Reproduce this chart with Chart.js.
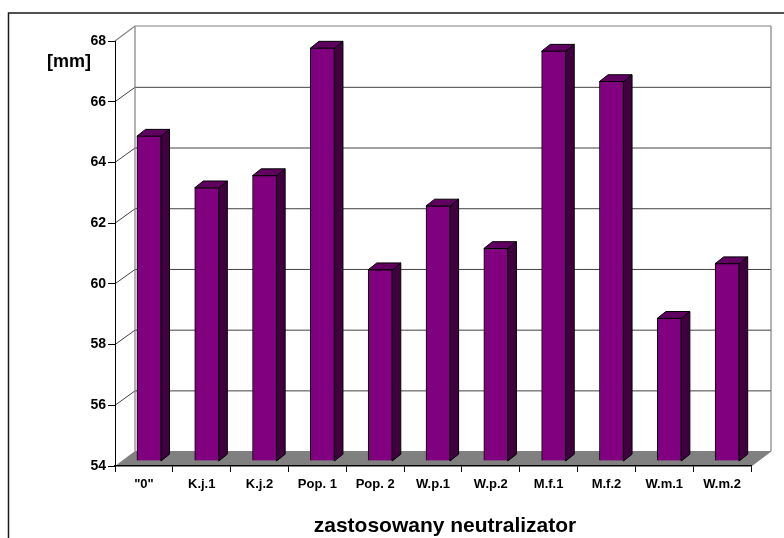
<!DOCTYPE html>
<html>
<head>
<meta charset="utf-8">
<style>
html,body{margin:0;padding:0;background:#fff;overflow:hidden}
#wrap{position:relative;width:784px;height:538px}
</style>
<script src="https://cdn.jsdelivr.net/npm/chart.js@4/dist/chart.umd.min.js"></script>
</head>
<body>
<div id="wrap"><canvas id="c" width="784" height="538"></canvas></div>
<script>
const categories = ['"0"','K.j.1','K.j.2','Pop. 1','Pop. 2','W.p.1','W.p.2','M.f.1','M.f.2','W.m.1','W.m.2'];
const values = [64.7,63.0,63.4,67.6,60.3,62.4,61.0,67.5,66.5,58.7,60.5];
const yMin = 54, yMax = 68, yStep = 2;
const yUnitLabel = '[mm]';
const xAxisLabel = 'zastosowany neutralizator';

const FONT = '"Liberation Sans", Arial, sans-serif';
const wallDX = 20, wallDY = -15;
const barShiftX = 5, barShiftY = -5;
const depthX = 8.6, depthY = -6.8;

const threeD = {
  id: 'threeD',
  beforeDraw(chart) {
    const {ctx, scales:{x, y}} = chart;
    const l = x.left, r = x.right, b = y.bottom;
    ctx.save();
    // outer frame
    ctx.strokeStyle = '#1a1a1a'; ctx.lineWidth = 1.5;
    ctx.beginPath(); ctx.moveTo(8.5, 538); ctx.lineTo(8.5, 13); ctx.lineTo(784, 13); ctx.stroke();
    // floor
    ctx.fillStyle = '#808080';
    ctx.beginPath();
    ctx.moveTo(l, b); ctx.lineTo(l + wallDX, b + wallDY);
    ctx.lineTo(r + wallDX, b + wallDY); ctx.lineTo(r, b); ctx.closePath(); ctx.fill();
    // grid on back wall and left wall
    for (let v = yMin + yStep; v <= yMax; v += yStep) {
      const py = y.getPixelForValue(v);
      const backY = py + wallDY + (v === yMax ? 0 : 0.6);
      ctx.strokeStyle = v === yMax ? '#808080' : '#404040';
      ctx.lineWidth = v === yMax ? 1.2 : 1;
      ctx.beginPath(); ctx.moveTo(l, py); ctx.lineTo(l + wallDX, backY);
      ctx.lineTo(r + wallDX, backY); ctx.stroke();
    }
    ctx.strokeStyle = '#808080'; ctx.lineWidth = 1.2;
    ctx.beginPath();
    ctx.moveTo(l + wallDX, b + wallDY); ctx.lineTo(l + wallDX, y.top + wallDY);
    ctx.moveTo(r + wallDX, b + wallDY); ctx.lineTo(r + wallDX, y.top + wallDY);
    ctx.moveTo(r, b); ctx.lineTo(r + wallDX, b + wallDY);
    ctx.stroke();
    ctx.restore();
  },
  beforeDatasetsDraw(chart) {
    const {ctx} = chart;
    const base = chart.scales.y.bottom;
    ctx.save();
    ctx.translate(barShiftX, barShiftY);
    ctx.strokeStyle = '#000'; ctx.lineWidth = 1; ctx.lineJoin = 'round';
    chart.getDatasetMeta(0).data.forEach(bar => {
      const w = bar.width, x0 = bar.x - w/2, x1 = bar.x + w/2, top = bar.y;
      // side face
      ctx.fillStyle = '#400040';
      ctx.beginPath();
      ctx.moveTo(x1, top); ctx.lineTo(x1 + depthX, top + depthY);
      ctx.lineTo(x1 + depthX, base + depthY); ctx.lineTo(x1, base); ctx.closePath();
      ctx.fill(); ctx.stroke();
      // top face
      ctx.fillStyle = '#600060';
      ctx.beginPath();
      ctx.moveTo(x0, top); ctx.lineTo(x0 + depthX, top + depthY);
      ctx.lineTo(x1 + depthX, top + depthY); ctx.lineTo(x1, top); ctx.closePath();
      ctx.fill(); ctx.stroke();
    });
  },
  afterDatasetsDraw(chart) {
    const {ctx} = chart;
    ctx.restore();
    ctx.save();
    ctx.fillStyle = '#000';
    ctx.textBaseline = 'middle';
    ctx.font = 'bold 18px ' + FONT;
    ctx.textAlign = 'left';
    ctx.fillText(yUnitLabel, 47, 62);
    ctx.font = 'bold 21px ' + FONT;
    ctx.textAlign = 'center';
    ctx.fillText(xAxisLabel, 445, 526);
    ctx.restore();
  }
};

new Chart(document.getElementById('c'), {
  type: 'bar',
  data: {
    labels: categories,
    datasets: [{
      data: values,
      base: yMin,
      backgroundColor: '#800080',
      borderColor: '#000',
      borderWidth: 1,
      barThickness: 24,
      clip: false
    }]
  },
  plugins: [threeD],
  options: {
    responsive: false,
    animation: false,
    layout: {padding: {left: 0, top: 41, right: 33, bottom: 0}},
    plugins: {legend: {display: false}, tooltip: {enabled: false}, title: {display: false}},
    scales: {
      x: {
        afterFit(s) { s.height = 72; },
        grid: {display: true, drawOnChartArea: false, drawTicks: true, tickLength: 6, color: '#000', offset: true},
        border: {display: true, color: '#000', width: 1.5},
        ticks: {color: '#000', font: {family: FONT, size: 13, weight: 'bold'}, padding: 5, maxRotation: 0, autoSkip: false}
      },
      y: {
        min: yMin, max: yMax,
        afterFit(s) { s.width = 115; },
        grid: {display: true, drawOnChartArea: false, drawTicks: true, tickLength: 7, color: '#000'},
        border: {display: true, color: '#000', width: 1},
        ticks: {stepSize: yStep, color: '#000', font: {family: FONT, size: 14, weight: 'bold'}, padding: 2}
      }
    }
  }
});
</script>
</body>
</html>
